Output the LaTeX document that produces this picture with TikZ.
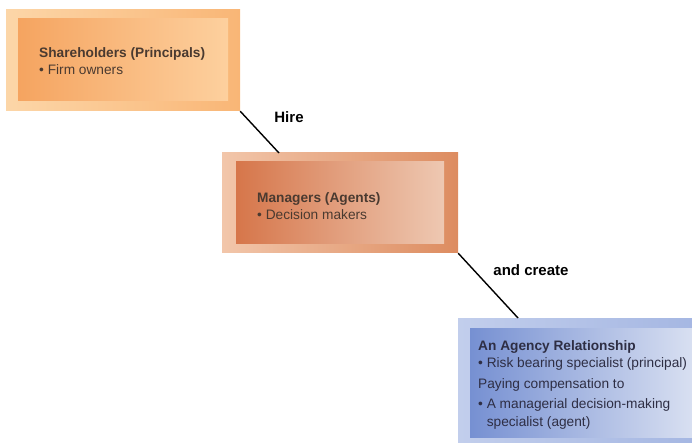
\documentclass[tikz,border=0pt]{standalone}
\usepackage{fontspec}
\setmainfont{Liberation Sans}
\begin{document}
\begin{tikzpicture}[x=1pt,y=-1pt,
  boxpart/.style={rectangle, draw=none, inner sep=0pt},
  conn/.style={draw=black, line width=1.4pt},
  lbl/.style={font=\fontsize{15}{18}\selectfont\bfseries, anchor=base, inner sep=0pt},
  boxtext/.style={font=\fontsize{13.7}{17.5}\selectfont, align=left, anchor=north west, inner sep=0pt}]
\useasboundingbox (0,0) rectangle (692,443);
\clip (0,0) rectangle (692,443);
\definecolor{oOutL}{HTML}{FCD6A8}\definecolor{oOutR}{HTML}{F9B676}
\definecolor{oInL}{HTML}{F5A460}\definecolor{oInR}{HTML}{FDD09E}
\definecolor{mOutL}{HTML}{F2C6AA}\definecolor{mOutR}{HTML}{DD8C60}
\definecolor{mInL}{HTML}{D6764A}\definecolor{mInR}{HTML}{EEC8B2}
\definecolor{bOutL}{HTML}{C2CEEC}\definecolor{bOutR}{HTML}{A4B6E2}
\definecolor{bInL}{HTML}{7690D2}\definecolor{bInR}{HTML}{DAE1F2}
\definecolor{txtO}{HTML}{4A3A30}\definecolor{txtB}{HTML}{2E2E44}
% box 1
\node[boxpart, left color=oOutL, right color=oOutR, minimum width=234pt, minimum height=101pt] (b1o) at (123,60.5) {};
\node[boxpart, left color=oInL, right color=oInR, minimum width=210pt, minimum height=82pt] (b1i) at (123,60) {};
\node[boxtext, text=txtO] (t1) at (39,47) {\textbf{Shareholders (Principals)}\\• Firm owners};
% box 2
\node[boxpart, left color=mOutL, right color=mOutR, minimum width=236pt, minimum height=100pt] (b2o) at (340,203) {};
\node[boxpart, left color=mInL, right color=mInR, minimum width=208pt, minimum height=82pt] (b2i) at (340,203) {};
\node[boxtext, text=txtO] (t2) at (257,192) {\textbf{Managers (Agents)}\\• Decision makers};
% box 3
\node[boxpart, left color=bOutL, right color=bOutR, minimum width=246pt, minimum height=132pt] (b3o) at (581,384) {};
\node[boxpart, left color=bInL, right color=bInR, minimum width=226pt, minimum height=109pt] (b3i) at (583,382.5) {};
\node[boxtext, text=txtB] (t3) at (478,340) {\textbf{An Agency Relationship}\\• Risk bearing specialist (principal)\\[3pt]Paying compensation to\\[3pt]• A managerial decision-making\\\phantom{• }specialist (agent)};
% connectors
\coordinate (c1) at (279,153);
\coordinate (c2) at (518,318);
\draw[conn] (b1o.south east) -- (c1);
\draw[conn] (b2o.south east) -- (c2);
\node[lbl] (l1) at (289,123) {Hire};
\node[lbl] (l2) at (531,275) {and create};
\end{tikzpicture}
\end{document}
